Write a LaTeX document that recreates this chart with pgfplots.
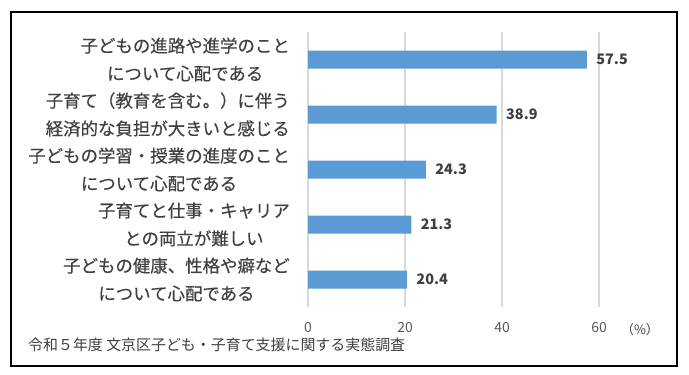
\documentclass[border=0pt]{standalone}
\usepackage{fontspec}
\setmainfont{Noto Sans CJK JP}
\newfontfamily\labelfont[FakeBold=0.3]{Noto Sans CJK JP}
\usepackage{pgfplots}
\pgfplotsset{compat=1.18}
\definecolor{barblue}{HTML}{5B9BD5}
\definecolor{txt}{HTML}{404040}
\definecolor{tickc}{HTML}{595959}
\definecolor{gridc}{HTML}{D9D9D9}
\begin{document}
\begin{tikzpicture}
\fill[white] (0bp,0bp) rectangle (689bp,-375bp);
\draw[black, line width=1.2bp] (11bp,-12bp) rectangle (677bp,-366bp);
\begin{axis}[
  at={(308bp,-307bp)}, anchor=south west,
  scale only axis, width=291bp, height=275bp,
  xbar, xmin=0, xmax=60, ymin=-0.5, ymax=4.5, y dir=reverse,
  xtick={0,20,40,60}, ytick={0,...,4},
  yticklabels={{子どもの進路や進学のこと\\について心配である},
               {子育て（教育を含む。）に伴う\\経済的な負担が大きいと感じる},
               {子どもの学習・授業の進度のこと\\について心配である},
               {子育てと仕事・キャリア\\との両立が難しい},
               {子どもの健康、性格や癖など\\について心配である}},
  yticklabel style={align=center, font=\labelfont\fontsize{17.5}{28}\selectfont, text=txt, inner sep=0pt, xshift=-18bp},
  xticklabel style={font=\fontsize{14}{16}\selectfont, text=tickc, inner sep=0pt, yshift=-15bp},
  /pgf/number format/assume math mode=true,
  major tick length=0pt,
  axis line style={draw=none},
  xmajorgrids, grid style={draw=gridc, line width=1.2bp},
  bar width=18bp,
  nodes near coords,
  nodes near coords style={font=\fontsize{14.5}{16}\selectfont\bfseries, text=txt, anchor=west, xshift=6bp},
  clip=false,
]
\addplot[fill=barblue, draw=none] coordinates {(57.5,0) (38.9,1) (24.3,2) (21.3,3) (20.4,4)};
\end{axis}
\node[font=\fontsize{13}{15}\selectfont, text=txt] at (640bp,-330bp) {（\%）};
\node[anchor=west, font=\fontsize{15}{17}\selectfont, text=txt, inner sep=0pt] at (28bp,-345bp) {令和５年度 文京区子ども・子育て支援に関する実態調査};
\end{tikzpicture}
\end{document}
